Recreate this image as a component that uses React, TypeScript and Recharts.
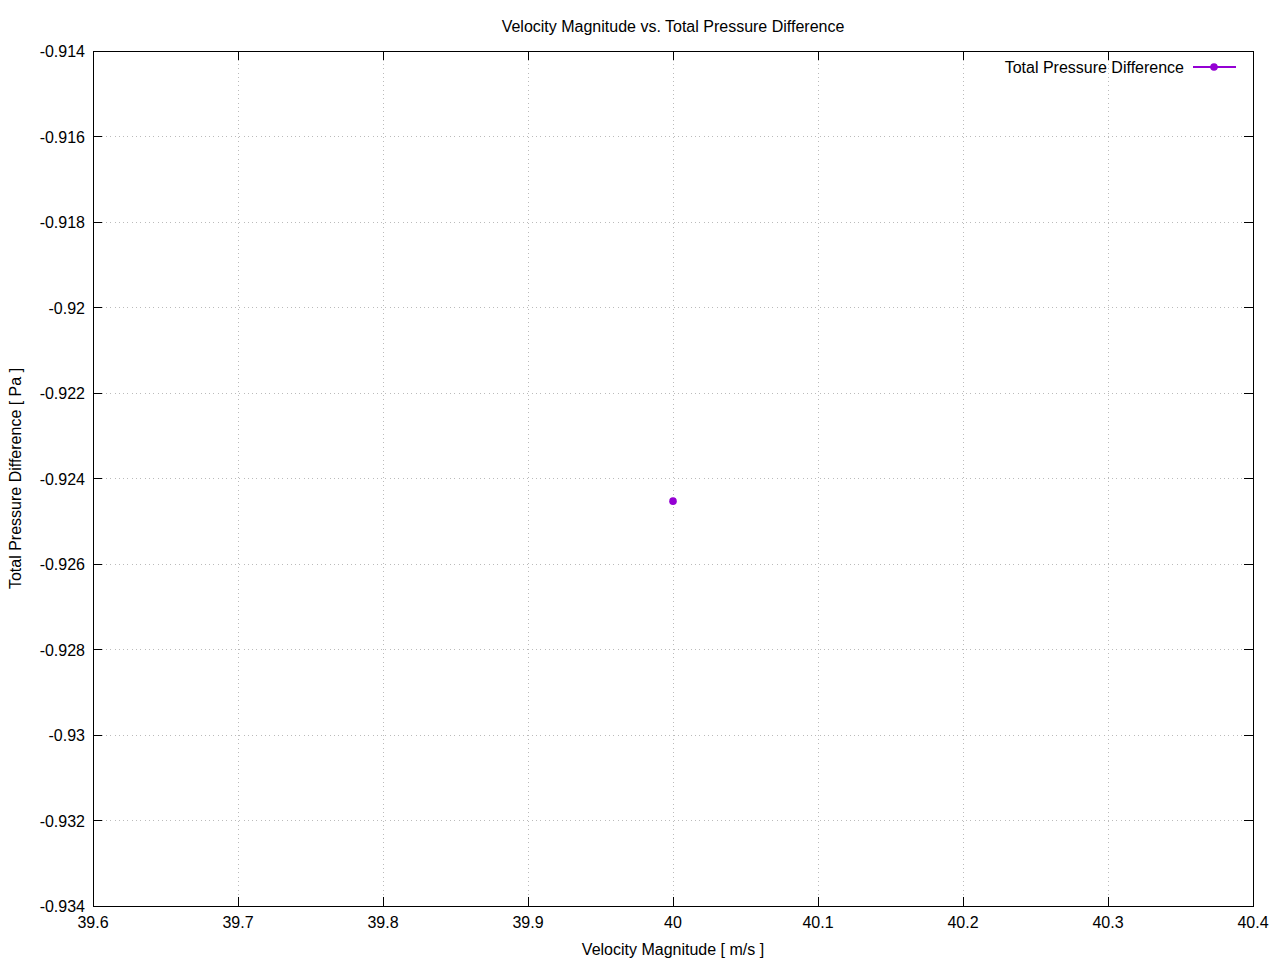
import { ScatterChart, Scatter, XAxis, YAxis, CartesianGrid, ReferenceArea, Label } from 'recharts';

const velocity = [40.0];
const pressureDiff = [-0.92453];
const xTicks = [39.6, 39.7, 39.8, 39.9, 40.0, 40.1, 40.2, 40.3, 40.4];
const yTicks = [-0.934, -0.932, -0.93, -0.928, -0.926, -0.924, -0.922, -0.92, -0.918, -0.916, -0.914];

const W = 1280;
const H = 960;
const LEFT = 93;
const TOP = 51;
const RIGHT = 1253;
const BOTTOM = 906;
const TICK = 9;
const FONT = '"Liberation Sans", Arial, sans-serif';
const PURPLE = '#9400d3';

const fmt = (v: number) => String(Number(v.toFixed(3)));

const data = velocity.map((x, i) => ({ x, y: pressureDiff[i] }));

function XTick(props: any) {
  const { x, payload } = props;
  return (
    <g>
      <line x1={x} x2={x} y1={BOTTOM} y2={BOTTOM - TICK} stroke="#000" shapeRendering="crispEdges" />
      <line x1={x} x2={x} y1={TOP} y2={TOP + TICK} stroke="#000" shapeRendering="crispEdges" />
      <text x={x} y={BOTTOM + 22} textAnchor="middle" fontSize={16} fill="#000" fontFamily={FONT}>
        {fmt(payload.value)}
      </text>
    </g>
  );
}

function YTick(props: any) {
  const { y, payload } = props;
  return (
    <g>
      <line x1={LEFT} x2={LEFT + TICK} y1={y} y2={y} stroke="#000" shapeRendering="crispEdges" />
      <line x1={RIGHT - TICK} x2={RIGHT} y1={y} y2={y} stroke="#000" shapeRendering="crispEdges" />
      <text x={LEFT - 8} y={y + 6} textAnchor="end" fontSize={16} fill="#000" fontFamily={FONT}>
        {fmt(payload.value)}
      </text>
    </g>
  );
}

export default function App() {
  return (
    <div style={{ position: 'absolute', left: 0, top: 0, width: W, height: H, background: '#fff', fontFamily: FONT }}>
      <ScatterChart width={W} height={H} margin={{ top: TOP, right: W - RIGHT, bottom: 0, left: 0 }}>
        <CartesianGrid stroke="#bbbbbb" strokeDasharray="1 3.3" shapeRendering="crispEdges" />
        <XAxis
          type="number"
          dataKey="x"
          domain={[39.6, 40.4]}
          ticks={xTicks}
          interval={0}
          height={H - BOTTOM}
          axisLine={false}
          tickLine={false}
          tick={<XTick />}
        >
          <Label
            content={() => (
              <text x={(LEFT + RIGHT) / 2} y={955} textAnchor="middle" fontSize={16} fill="#000" fontFamily={FONT}>
                Velocity Magnitude [ m/s ]
              </text>
            )}
          />
        </XAxis>
        <YAxis
          type="number"
          dataKey="y"
          domain={[-0.934, -0.914]}
          ticks={yTicks}
          interval={0}
          width={LEFT}
          axisLine={false}
          tickLine={false}
          tick={<YTick />}
        >
          <Label
            content={() => (
              <text
                x={21}
                y={(TOP + BOTTOM) / 2}
                transform={`rotate(-90, 21, ${(TOP + BOTTOM) / 2})`}
                textAnchor="middle"
                fontSize={16}
                fill="#000"
                fontFamily={FONT}
              >
                Total Pressure Difference [ Pa ]
              </text>
            )}
          />
        </YAxis>
        <ReferenceArea
          x1={39.6}
          x2={40.4}
          y1={-0.934}
          y2={-0.914}
          stroke="#000"
          strokeWidth={1}
          fill="none"
          fillOpacity={0}
          shapeRendering="crispEdges"
        />
        <Scatter
          name="Total Pressure Difference"
          data={data}
          fill={PURPLE}
          isAnimationActive={false}
          shape={(p: any) => <circle cx={p.cx} cy={p.cy} r={3.8} fill={PURPLE} />}
        />
      </ScatterChart>
      <div
        style={{
          position: 'absolute',
          left: LEFT,
          width: RIGHT - LEFT,
          top: 17.5,
          lineHeight: '18px',
          fontSize: 16,
          textAlign: 'center',
          color: '#000',
        }}
      >
        Velocity Magnitude vs. Total Pressure Difference
      </div>
      <div
        style={{
          position: 'absolute',
          right: W - 1184,
          top: 58.5,
          lineHeight: '18px',
          fontSize: 16,
          color: '#000',
          whiteSpace: 'nowrap',
        }}
      >
        Total Pressure Difference
      </div>
      <svg style={{ position: 'absolute', left: 1190, top: 60 }} width={50} height={14}>
        <line x1={3} x2={46} y1={7} y2={7} stroke={PURPLE} strokeWidth={2} />
        <circle cx={24} cy={7} r={3.8} fill={PURPLE} />
      </svg>
    </div>
  );
}
